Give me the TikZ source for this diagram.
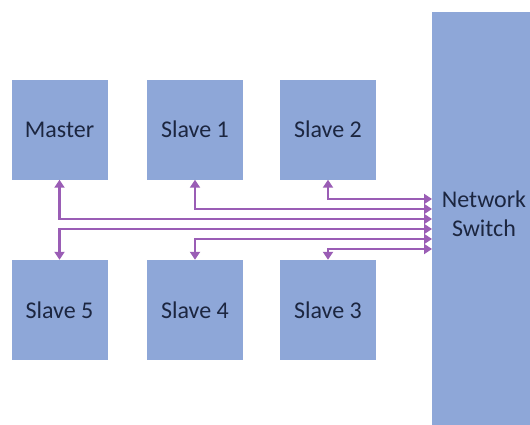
\documentclass[tikz,border=0pt]{standalone}
\usepackage{fontspec}
\setmainfont{Carlito}
\usetikzlibrary{arrows.meta}
\definecolor{boxfill}{HTML}{8EA7D8}
\definecolor{linkcol}{HTML}{9A5DB5}
\definecolor{txtcol}{HTML}{1C2640}
\begin{document}
\begin{tikzpicture}[x=1pt,y=-1pt,
  unit/.style={fill=boxfill, draw=none, minimum width=96pt, minimum height=100pt,
    inner sep=0pt, text=txtcol, font=\fontsize{24}{29}\selectfont},
  conn/.style={draw=linkcol, line width=2.8pt,
    {Triangle[width=10pt,length=8pt]}-{Triangle[width=10pt,length=8pt]}}]
\useasboundingbox (0,0) rectangle (530,424);
\fill[white] (0,0) rectangle (530,424);

% network switch
\node[fill=boxfill, minimum width=100pt, minimum height=430pt, inner sep=0pt,
      anchor=north west] (sw) at (432,12) {};
\node[text=txtcol, font=\fontsize{24}{29}\selectfont, align=center] (swlabel) at (484,214) {Network\\Switch};

% top row
\node[unit] (m)  at (59.5,129.5) {Master};
\node[unit] (s1) at (195,129.5) {Slave 1};
\node[unit] (s2) at (328,129.5) {Slave 2};
% bottom row
\node[unit] (s5) at (59.5,310) {Slave 5};
\node[unit] (s4) at (195,310) {Slave 4};
\node[unit] (s3) at (328,310) {Slave 3};

% bus levels
\coordinate (y2) at (0,199);
\coordinate (y1) at (0,209);
\coordinate (y0) at (0,219);
\coordinate (y5) at (0,229);
\coordinate (y4) at (0,239);
\coordinate (y3) at (0,249);

\draw[conn] (s2.south) |- (sw.west |- y2);
\draw[conn] (s1.south) |- (sw.west |- y1);
\draw[conn] (m.south)  |- (sw.west |- y0);
\draw[conn] (s5.north) |- (sw.west |- y5);
\draw[conn] (s4.north) |- (sw.west |- y4);
\draw[conn] (s3.north) |- (sw.west |- y3);
\end{tikzpicture}
\end{document}
